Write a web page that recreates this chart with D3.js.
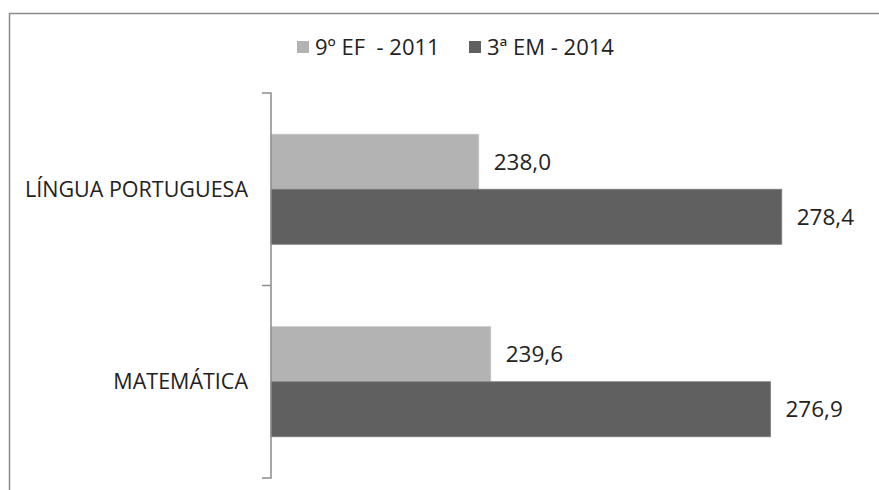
<!DOCTYPE html>
<html>
<head>
<meta charset="utf-8">
<script src="https://cdn.jsdelivr.net/npm/d3@7"></script>
<style>
  html, body { margin: 0; padding: 0; background: #fff; }
  svg { display: block; font-family: "Open Sans", "DejaVu Sans", sans-serif; }
</style>
</head>
<body>
<svg id="chart" width="879" height="490"></svg>
<script>
// Proficiency averages by subject and assessment
const categories = ["LÍNGUA PORTUGUESA", "MATEMÁTICA"];
const seriesNames = ["9º EF  - 2011", "3ª EM - 2014"];
const values2011 = [238.0, 239.6];
const values2014 = [278.4, 276.9];
const seriesColors = ["#b3b3b3", "#606060"];

const data = categories.map((c, i) => ({
  category: c,
  values: [
    { series: seriesNames[0], value: values2011[i] },
    { series: seriesNames[1], value: values2014[i] }
  ]
}));

const svg = d3.select("#chart");
const fmt = v => d3.format(".1f")(v).replace(".", ",");

// outer frame
svg.append("path")
  .attr("d", "M9.5,490 V13.5 H879")
  .attr("fill", "none")
  .attr("stroke", "#8c8c8c")
  .attr("stroke-width", 1.5);

const x = d3.scaleLinear().domain([210.3, 290]).range([271, 868.75]);
const y = d3.scaleBand().domain(categories).range([93, 478]);
const ySub = d3.scaleBand().domain(seriesNames).range([0, y.bandwidth()]).paddingOuter(0.75);
const color = d3.scaleOrdinal().domain(seriesNames).range(seriesColors);

const groups = svg.append("g").selectAll("g")
  .data(data)
  .join("g")
  .attr("transform", d => `translate(0,${y(d.category)})`);

groups.selectAll("rect")
  .data(d => d.values)
  .join("rect")
  .attr("x", x.range()[0])
  .attr("y", d => ySub(d.series))
  .attr("width", d => x(d.value) - x.range()[0])
  .attr("height", ySub.bandwidth())
  .attr("fill", d => color(d.series))
  .attr("stroke", (d, i) => i === 0 ? "#c4c4c4" : "#7a7a7a")
  .attr("stroke-width", 0.8);

groups.selectAll("text.val")
  .data(d => d.values)
  .join("text")
  .attr("class", "val")
  .attr("x", d => x(d.value) + 15)
  .attr("y", d => ySub(d.series) + ySub.bandwidth() / 2)
  .attr("dy", "0.35em")
  .attr("font-size", 22.5)
  .attr("fill", "#222")
  .text(d => fmt(d.value));

// category axis: vertical line with marks at band boundaries
const axisG = svg.append("g")
  .attr("transform", `translate(${x.range()[0]},0)`)
  .call(d3.axisLeft(y).tickSize(9).tickFormat("").tickSizeOuter(9));
axisG.selectAll(".tick").remove();
axisG.select(".domain")
  .attr("d", `M-9,${y.range()[0]}H0V${y.range()[1]}H-9`)
  .attr("fill", "none")
  .attr("stroke", "#8c8c8c")
  .attr("stroke-width", 1.5);
const inner = categories.slice(1).map(c => y(c));
axisG.selectAll("line.b")
  .data(inner)
  .join("line")
  .attr("class", "b")
  .attr("x1", -9).attr("x2", 0)
  .attr("y1", d => d).attr("y2", d => d)
  .attr("stroke", "#8c8c8c")
  .attr("stroke-width", 1.5);

svg.append("g").selectAll("text")
  .data(categories)
  .join("text")
  .attr("x", 248)
  .attr("y", d => y(d) + y.bandwidth() / 2)
  .attr("dy", "0.35em")
  .attr("text-anchor", "end")
  .attr("font-size", 21.5)
  .attr("fill", "#222")
  .text(d => d);

// legend
const legendX = [297, 469];
const legend = svg.append("g").selectAll("g")
  .data(seriesNames)
  .join("g")
  .attr("transform", (d, i) => `translate(${legendX[i]},41)`);
legend.append("rect")
  .attr("width", 12).attr("height", 12)
  .attr("fill", d => color(d));
legend.append("text")
  .attr("x", 18)
  .attr("y", 6)
  .attr("dy", "0.35em")
  .attr("font-size", 22)
  .attr("fill", "#222")
  .style("white-space", "pre")
  .text(d => d);
</script>
</body>
</html>
